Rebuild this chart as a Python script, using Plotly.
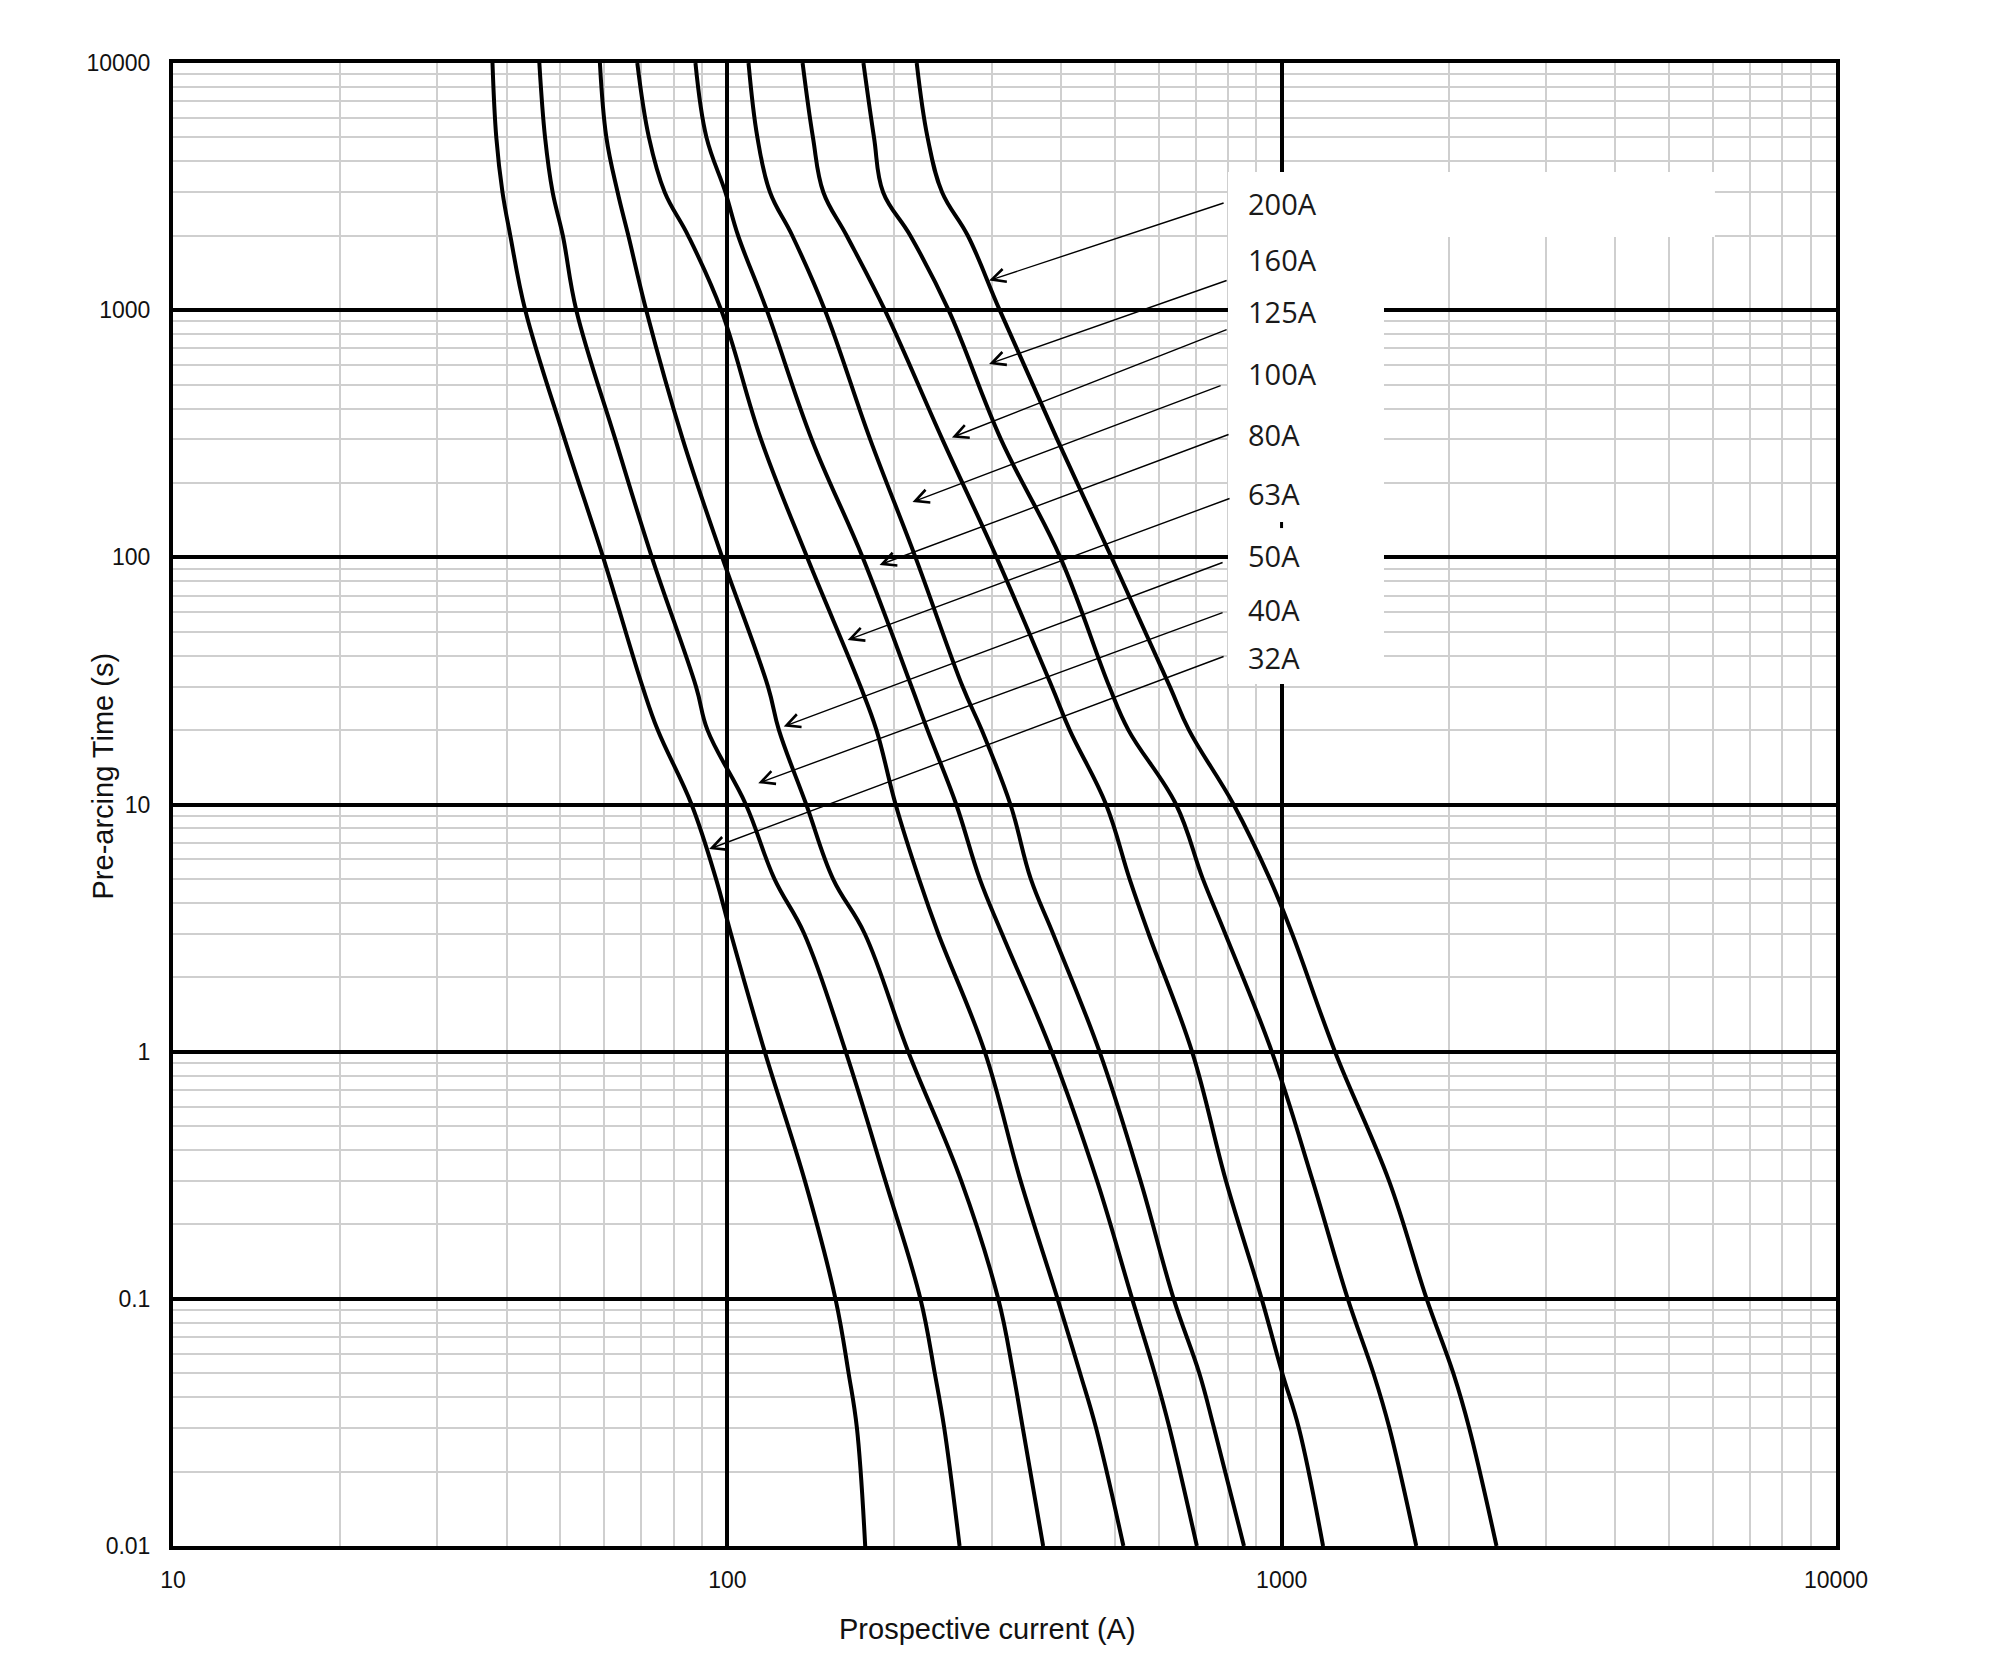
import numpy as np
import plotly.graph_objects as go

# ─── Data ─────────────────────────────────────────────────────────────────────
# pre-arcing time points (s) where each curve was read
TIME_S = [10000, 5000, 3000, 2000, 1000, 300, 100, 30, 20, 10, 5, 3, 1,
          0.3, 0.1, 0.05, 0.03, 0.01]

# prospective current (A) for each fuse rating at the times above
I_32A = [37.7, 38.3, 39.3, 40.6, 43.2, 50.9, 59.7, 70.3, 74.9, 86.2, 95.4,
         101.5, 116.8, 138.0, 156.7, 165.5, 171.3, 177.3]
I_40A = [45.8, 46.9, 48.4, 50.5, 53.4, 62.8, 73.1, 87.8, 92.1, 108.0, 121.6,
         137.6, 163.5, 192.8, 223.0, 236.7, 246.2, 262.4]
I_50A = [58.9, 60.5, 63.4, 66.3, 71.4, 83.1, 97.9, 118.4, 123.9, 138.8, 155.1,
         177.0, 212.0, 264.2, 308.1, 327.9, 341.2, 371.3]
I_63A = [68.8, 72.2, 77.1, 85.0, 97.5, 115.0, 139.3, 173.9, 185.8, 201.2,
         221.7, 240.2, 291.3, 338.1, 394.2, 432.9, 462.6, 518.2]
I_80A = [87.6, 91.7, 99.2, 104.6, 117.8, 142.0, 175.4, 214.9, 229.7, 258.8,
         285.3, 313.0, 384.8, 464.5, 537.4, 590.2, 627.6, 703.1]
I_100A = [109.2, 113.3, 119.4, 131.0, 150.0, 181.0, 218.5, 265.7, 287.7, 324.1,
          352.7, 386.9, 469.3, 556.4, 638.5, 710.3, 755.1, 855.2]
I_125A = [136.7, 142.7, 149.0, 164.2, 192.4, 244.3, 306.0, 384.9, 414.6, 482.2,
          531.6, 575.4, 689.2, 793.4, 920.2, 1002.5, 1074.0, 1187.6]
I_160A = [176.0, 183.9, 191.0, 213.9, 250.7, 311.6, 398.7, 488.7, 529.1, 644.9,
          720.8, 791.0, 959.8, 1137.6, 1316.0, 1464.0, 1564.6, 1749.0]
I_200A = [219.6, 229.7, 244.0, 271.6, 310.0, 393.6, 493.2, 628.5, 680.5, 819.0,
          952.0, 1044.5, 1248.0, 1562.0, 1826.0, 2040.0, 2179.0, 2441.0]

RATINGS = ["32A", "40A", "50A", "63A", "80A", "100A", "125A", "160A", "200A"]
CURVES = [I_32A, I_40A, I_50A, I_63A, I_80A, I_100A, I_125A, I_160A, I_200A]

# ─── Label / arrow placement ──────────────────────────────────────────────────
# arrow tip on the curve (A, s) and arrow tail next to the label (A, s)
ARROW_TIP = {
    "200A": (296.6, 1318), "160A": (296.6, 606), "125A": (254.2, 305.5),
    "100A": (215.8, 167.5), "80A": (188.2, 93.2), "63A": (164.8, 46.3),
    "50A": (126.4, 20.7), "40A": (113.7, 12.2), "32A": (92.7, 6.6),
}
ARROW_TAIL = {
    "200A": (790.6, 2727), "160A": (800.6, 1325), "125A": (800.6, 839.5),
    "100A": (780.8, 498), "80A": (807.0, 315.6), "63A": (810.4, 173.9),
    "50A": (787.3, 95.8), "40A": (787.3, 60.1), "32A": (790.6, 39.9),
}
LABEL_Y = {  # paper coords of label centres
    "200A": 0.9050, "160A": 0.8672, "125A": 0.8321, "100A": 0.7903,
    "80A": 0.7492, "63A": 0.7094, "50A": 0.6682, "40A": 0.6315, "32A": 0.5994,
}
LABEL_X = 0.6450

X_TICKS = [10, 100, 1000, 10000]
Y_TICKS = [0.01, 0.1, 1, 10, 100, 1000, 10000]
X_MINOR = [m * 10 ** k for k in range(1, 4) for m in range(2, 10)]
Y_MINOR = [m * 10 ** k for k in range(-2, 4) for m in range(2, 10)]

AXIS_FONT = dict(family="Liberation Sans, Arial, sans-serif", size=23, color="#111111")
TITLE_FONT = dict(family="Liberation Sans, Arial, sans-serif", size=29, color="#111111")
LABEL_FONT = dict(family="Open Sans, sans-serif", size=29, color="#1a1a1a")

# ─── Figure ───────────────────────────────────────────────────────────────────
fig = go.Figure()

for name, cur in zip(RATINGS, CURVES):
    fig.add_trace(go.Scatter(
        x=cur, y=TIME_S, mode="lines", name=name,
        line=dict(color="black", width=4, shape="spline", smoothing=1.1),
        showlegend=False,
    ))

axis_common = dict(
    type="log",
    showline=True, mirror=True, linecolor="black", linewidth=4,
    showgrid=True, gridcolor="black", gridwidth=3.5,
    ticks="", tickfont=AXIS_FONT, zeroline=False,
)

fig.update_xaxes(
    **axis_common,
    range=[1, 4],
    tickmode="array", tickvals=X_TICKS, ticktext=[str(v) for v in X_TICKS],
    ticklabelstandoff=10,
    minor=dict(tickvals=X_MINOR, showgrid=True, gridcolor="#cfcfcf", gridwidth=1.8),
)
fig.update_yaxes(
    **axis_common,
    range=[-2, 4],
    tickmode="array", tickvals=Y_TICKS,
    ticktext=["0.01", "0.1", "1", "10", "100", "1000", "10000"],
    ticklabelstandoff=14,
    minor=dict(tickvals=Y_MINOR, showgrid=True, gridcolor="#cfcfcf", gridwidth=1.8),
)

# white panel behind the rating labels
fig.add_shape(type="rect", xref="paper", yref="paper",
              x0=0.6344, x1=0.7282, y0=0.5813, y1=0.9265,
              fillcolor="white", line=dict(width=0), layer="above")
fig.add_shape(type="rect", xref="paper", yref="paper",
              x0=0.6344, x1=0.9272, y0=0.8827, y1=0.9265,
              fillcolor="white", line=dict(width=0), layer="above")
# small leftover piece of the 1000 A grid line inside the panel
fig.add_shape(type="line", xref="paper", yref="paper",
              x0=0.6666, x1=0.6666, y0=0.6864, y1=0.6905,
              line=dict(color="black", width=3), layer="above")

annotations = []
for name in RATINGS:
    tip_i, tip_t = ARROW_TIP[name]
    tail_i, tail_t = ARROW_TAIL[name]
    annotations.append(dict(
        x=np.log10(tip_i), y=np.log10(tip_t), xref="x", yref="y",
        ax=np.log10(tail_i), ay=np.log10(tail_t), axref="x", ayref="y",
        showarrow=True, arrowhead=5, arrowsize=1.9, arrowwidth=1.4,
        arrowcolor="black", text="",
    ))
    annotations.append(dict(
        x=LABEL_X, y=LABEL_Y[name], xref="paper", yref="paper",
        text=name, showarrow=False, xanchor="left", yanchor="middle",
        font=LABEL_FONT,
    ))

# axis titles
annotations.append(dict(
    x=0.490, y=-0.056, xref="paper", yref="paper", text="Prospective current (A)",
    showarrow=False, xanchor="center", yanchor="middle", font=TITLE_FONT,
))
annotations.append(dict(
    x=-0.042, y=0.519, xref="paper", yref="paper", text="Pre-arcing Time (s)",
    showarrow=False, xanchor="center", yanchor="middle", textangle=-90,
    font=TITLE_FONT,
))

fig.update_layout(
    width=2000, height=1662,
    margin=dict(l=165, r=172, t=55, b=124),
    plot_bgcolor="white", paper_bgcolor="white",
    annotations=annotations,
)

fig.write_html("out.html")
